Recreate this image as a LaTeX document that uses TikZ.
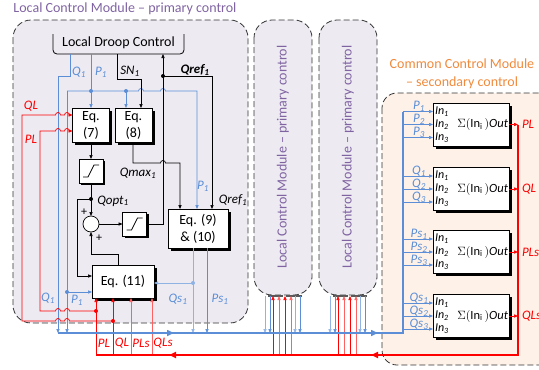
\documentclass[tikz,border=0pt]{standalone}
\usepackage{fontspec}
\setmainfont{Carlito}
\usetikzlibrary{arrows.meta,shadows}
\definecolor{mblue}{HTML}{5B8ED6}
\definecolor{lblue}{HTML}{8FB3E3}
\definecolor{mred}{HTML}{FF0000}
\definecolor{lred}{HTML}{FF6060}
\definecolor{purp}{HTML}{8064A2}
\definecolor{orng}{HTML}{F08A3C}
\definecolor{lcmfill}{HTML}{EDEAF2}
\definecolor{ccmfill}{HTML}{FDF1E8}
\newcommand{\sub}[1]{\textsubscript{#1}}
\newcommand{\fsz}[1]{\fontsize{#1}{#1}\selectfont}
\begin{document}
\begin{tikzpicture}[x=1pt,y=-1pt,
  every node/.style={inner sep=0pt, outer sep=0pt},
  sig/.style={line width=0.7pt},
  tip/.style={-{Triangle[length=4pt,width=3.2pt]}},
  eqbox/.style={draw=black, fill=white, line width=0.7pt, align=center,
     drop shadow={shadow xshift=2.5pt,shadow yshift=-2.5pt,opacity=1,fill=black},
     font=\fontsize{14}{17}\selectfont},
  satbox/.style={draw=black, fill=white, line width=0.7pt, minimum width=24pt, minimum height=24pt,
     drop shadow={shadow xshift=2pt,shadow yshift=-2pt,opacity=1,fill=black}},
  dotn/.style={circle, fill, minimum size=4pt},
  lab/.style={font=\fsz{13}\itshape},
  module/.style={draw=black!80, dash pattern=on 6pt off 3pt, line width=0.8pt, fill=lcmfill, rounded corners=18pt},
  sumbox/.style={draw=black, fill=white, line width=0.7pt, minimum width=76pt, minimum height=43pt,
     drop shadow={shadow xshift=2.5pt,shadow yshift=-2.5pt,opacity=1,fill=black}},
  bus/.style={line width=1.5pt},
  bustip/.style={-{Triangle[length=7pt,width=6pt]}},
]
\useasboundingbox (0,0) rectangle (539,370);
\clip (0,0) rectangle (539,370);

% ---------- module frames ----------
\draw[module] (13,20) rectangle (248,323);
\draw[module] (254,20) rectangle (312,295);
\draw[module] (319,20) rectangle (377,295);
\draw[module, fill=ccmfill, rounded corners=15pt] (382,93) rectangle (570,365);

\node[purp, font=\fsz{14}] (t1) at (125,9) {Local Control Module -- primary control};
\node[purp, font=\fsz{14}, rotate=90] (t2) at (283,157) {Local Control Module -- primary control};
\node[purp, font=\fsz{14}, rotate=90] (t3) at (348,157) {Local Control Module -- primary control};
\node[orng, font=\fsz{14}] (t4) at (462,64) {Common Control Module};
\node[orng, font=\fsz{14}] (t5) at (462,83) {-- secondary control};

% ---------- module 1 blocks ----------
\node[font=\fsz{14}] (ldc) at (118.5,43) {Local Droop Control};
\draw[line width=0.8pt, rounded corners=4pt] (53,34) -- (53,54) -- (184,54) -- (184,34);

\node[eqbox, minimum width=37pt, minimum height=34pt] (eq7) at (91,125) {Eq.\\(7)};
\node[eqbox, minimum width=37pt, minimum height=34pt] (eq8) at (133.5,125) {Eq.\\(8)};
\node[satbox] (sat1) at (91,171) {};
\node[satbox] (sat2) at (134.5,224) {};
\draw[sig] ([shift={(-8,6)}]sat1.center) -- ++(5,0) -- ++(6,-12) -- ++(5,0);
\draw[sig] ([shift={(-8,6)}]sat2.center) -- ++(5,0) -- ++(6,-12) -- ++(5,0);
\node[draw, circle, fill=white, line width=0.7pt, minimum size=16pt] (sum) at (91,224) {};
\node[eqbox, minimum width=60pt, minimum height=39pt] (eq910) at (198,228.5) {Eq. (9)\\\& (10)};
\node[eqbox, minimum width=62pt, minimum height=33pt] (eq11) at (123,281.5) {Eq. (11)};

% ---------- blue signals ----------
\draw[mblue,sig,tip] (70,54) -- (70,76) -- (58,76) -- (58,333);
\draw[mblue,sig,tip] (91,54) -- (eq7.north);
\draw[mblue,sig,tip] (67,91) -- (138.5,91) arc[start angle=180,end angle=0,radius=2.5pt]
   -- (160.5,91) arc[start angle=180,end angle=0,radius=2.5pt] -- (197,91) -- (eq910.north -| 197,0);
\draw[mblue,sig,tip] (67,91) -- (67,333);
\draw[mblue,sig,tip] (126,91) -- (eq8.north -| 126,0);
\draw[mblue,sig,tip] (67,292) -- (eq11.west |- 0,292);
\node[dotn, mblue] (d1) at (91,91) {};
\node[dotn, mblue] (d2) at (126,91) {};
\node[dotn, mblue] (d3) at (67,292) {};
\draw[lblue,sig,tip] (eq910.south -| 193,0) -- (193,333);
\draw[mblue,sig,tip] (eq910.south -| 207,0) -- (207,333);
\draw[lblue,sig,tip] (193,283) -- (eq11.east |- 0,283);
\node[dotn, lblue] (d4) at (193,283) {};

% ---------- black signals ----------
\draw[sig,tip] (117,54) -- (117,79) -- (141,79) -- (eq8.north -| 141,0);
\draw[sig,tip] (sat2.east) -- (163,224) -- (163,54);
\draw[sig,tip] (163,76) -- (212,76) -- (eq910.north -| 212,0);
\node[dotn] (d5) at (163,76) {};
\draw[sig,tip] (eq8.south -| 133,0) -- (133,163) -- (160.5,163) arc[start angle=180,end angle=0,radius=2.5pt]
   -- (180,163) -- (eq910.north -| 180,0);
\draw[sig,tip] (eq7.south) -- (sat1.north);
\draw[sig,tip] (sat1.south) -- (sum.north);
\node[dotn] (d6) at (91,199) {};
\draw[sig,tip] (91,199) -- (77,199) -- (77,276) -- (eq11.west |- 0,276);
\draw[sig,tip] (eq11.north -| 118,0) -- (118,254) -- (91,254) -- (sum.south);
\draw[sig,tip] (sum.east) -- (sat2.west);

% ---------- red signals ----------
\draw[mred,sig,tip] (96,355) -- (eq11.south -| 96,0);
\draw[mred,sig,tip] (113,355) -- (eq11.south -| 113,0);
\draw[lred,sig,tip] (131,355) -- (eq11.south -| 131,0);
\draw[lred,sig,tip] (152,355) -- (eq11.south -| 152,0);
\draw[mred,sig,tip] (96,311) -- (69.5,311) arc[start angle=0,end angle=180,radius=2.5pt]
   -- (60.5,311) arc[start angle=0,end angle=180,radius=2.5pt] -- (40,311) -- (40,131)
   -- (55.5,131) arc[start angle=180,end angle=0,radius=2.5pt]
   -- (64.5,131) arc[start angle=180,end angle=0,radius=2.5pt] -- (eq7.west |- 0,131);
\draw[mred,sig,tip] (113,321) -- (69.5,321) arc[start angle=0,end angle=180,radius=2.5pt]
   -- (60.5,321) arc[start angle=0,end angle=180,radius=2.5pt] -- (22,321) -- (22,115)
   -- (55.5,115) arc[start angle=180,end angle=0,radius=2.5pt]
   -- (64.5,115) arc[start angle=180,end angle=0,radius=2.5pt] -- (eq7.west |- 0,115);
\node[dotn, mred] (d7) at (96,311) {};
\node[dotn, mred] (d8) at (113,321) {};

% ---------- labels module 1 ----------
\node[lab, mblue] at (79,72) {Q\sub{1}};
\node[lab, mblue] at (101,72) {P\sub{1}};
\node[lab] at (130,71) {SN\sub{1}};
\node[lab, font=\fsz{13}\bfseries\itshape] at (195,70) {Qref\sub{1}};
\node[lab, mred] at (31,106) {QL};
\node[lab, mred] at (31,139) {PL};
\node[lab] at (138,173) {Qmax\sub{1}};
\node[lab, mblue] at (203,186) {P\sub{1}};
\node[lab] at (233,200) {Qref\sub{1}};
\node[lab] at (113,201) {Qopt\sub{1}};
\node[font=\fsz{12}] at (84,212) {+};
\node[font=\fsz{12}] at (99,238) {+};
\node[lab, mblue] at (48,298) {Q\sub{1}};
\node[lab, mblue] at (77,300) {P\sub{1}};
\node[lab, mblue] at (178,299) {Qs\sub{1}};
\node[lab, mblue] at (220,299) {Ps\sub{1}};
\node[lab, mred] at (104,343) {PL};
\node[lab, mred] at (122,343) {QL};
\node[lab, mred] at (141,343) {PLs};
\node[lab, mred] at (163,343) {QLs};

% ---------- modules 2 and 3 connections ----------
\foreach \o in {0,65} {
  \draw[gray!70!black, line width=1.2pt] (268+\o,296) -- (283+\o,296);
  \draw[gray!70!black, line width=1.2pt] (286+\o,296) -- (302+\o,296);
  \draw[lblue,sig,tip] (265+\o,296) -- (265+\o,333);
  \draw[mblue,sig,tip] (270+\o,296) -- (270+\o,333);
  \draw[lblue,sig,tip] (295+\o,296) -- (295+\o,333);
  \draw[mblue,sig,tip] (300+\o,296) -- (300+\o,333);
  \draw[mred,sig,tip] (273+\o,355) -- (273+\o,296);
  \draw[lred,sig,tip] (279+\o,355) -- (279+\o,296);
  \draw[mred,sig,tip] (285+\o,355) -- (285+\o,296);
  \draw[lred,sig,tip] (291+\o,355) -- (291+\o,296);
}

% ---------- buses ----------
\draw[mblue,bus] (58,333) -- (403,333) -- (403,111.5);
\draw[mblue,bus,bustip] (150,333) -- (174,333);
\draw[mblue,bus,bustip] (355,333) -- (378,333);
\draw[mred,line width=2pt] (518,124.5) -- (518,355) -- (96,355);
\draw[mred,line width=2pt,bustip] (195,355) -- (169,355);
\draw[mred,line width=2pt,bustip] (395,355) -- (371,355);

% ---------- common control module blocks ----------
\foreach \cy/\nm/\pre/\o in {124.5/s1/P/PL, 189/s2/Q/QL, 252/s3/Ps/PLs, 316/s4/Qs/QLs} {
  \node[sumbox] (\nm) at (471,\cy) {};
  \foreach \k/\dy in {1/-13,2/0,3/13} {
    \draw[mblue,sig,tip] (403,{\cy+(\dy)}) -- (433,{\cy+(\dy)});
    \node[lab, mblue] at (419,{\cy+(\dy)-5}) {\pre\sub{\k}};
    \node[lab, font=\fsz{12}\itshape, anchor=west] at (435,{\cy+(\dy)}) {In\sub{\k}};
  }
  \node[anchor=east, font=\fsz{12.5}] at (508,\cy) {$\Sigma(\mathrm{In}_{\mathrm{i}}\,)$\textit{Out}};
  \draw[mred,sig,tip] (\nm.east) -- (518,\cy);
  \node[lab, mred, anchor=west] at (522,\cy) {\o};
}
\end{tikzpicture}
\end{document}
